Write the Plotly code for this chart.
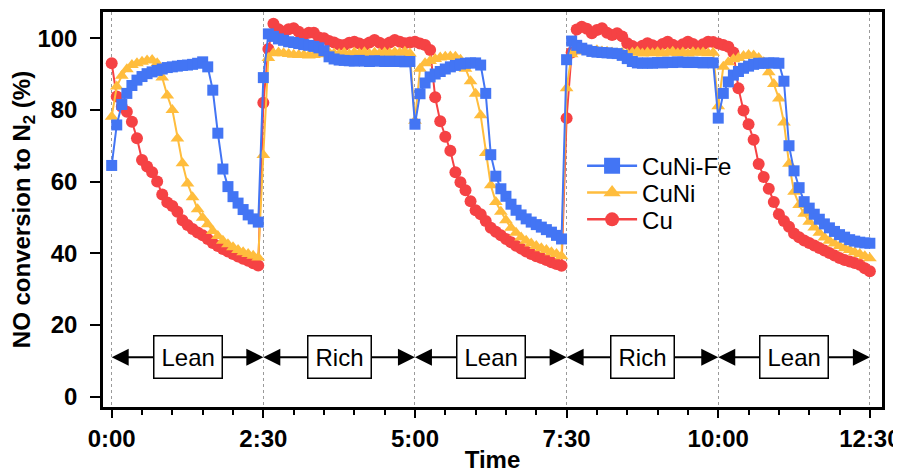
import plotly.graph_objects as go

# ---------------- data ----------------
time_s = list(range(0, 751, 5))  # sampling times in seconds

cuni_fe = [
    # lean 1
    64.5, 75.8, 81.5, 84.6, 86.8, 88.3, 89.3, 90.1, 90.6, 91.0,
    91.4, 91.8, 92.0, 92.2, 92.4, 92.5, 92.7, 93.0, 93.4, 92.0,
    85.5, 73.5, 63.5, 58.6, 55.8, 54.0, 52.2, 50.7, 49.6, 48.7,
    # rich 1
    89.0, 101.2, 100.5, 99.8, 99.4, 99.0, 98.8, 98.5, 98.2, 98.0,
    97.7, 97.3, 96.5, 94.8, 94.2, 93.9, 93.8, 93.7, 93.6, 93.8,
    93.6, 93.5, 93.7, 93.6, 93.5, 93.6, 93.5, 93.6, 93.4, 93.5,
    # lean 2
    76.0, 84.5, 87.5, 89.2, 90.0, 90.7, 91.4, 92.0, 92.4, 92.8,
    93.0, 93.1, 93.1, 92.5, 84.6, 67.5, 61.5, 58.0, 55.9, 53.7,
    52.0, 50.7, 49.6, 48.7, 48.0, 47.3, 46.6, 45.9, 45.0, 44.0,
    # rich 2
    94.0, 99.2, 98.0, 97.2, 96.7, 96.3, 96.1, 96.0, 95.9, 95.8,
    95.7, 95.2, 94.3, 93.5, 93.1, 93.0, 93.1, 93.0, 93.2, 93.1,
    93.3, 93.2, 93.4, 93.3, 93.2, 93.3, 93.2, 93.1, 93.2, 93.1,
    # lean 3
    77.7, 84.6, 87.8, 89.7, 90.7, 91.6, 92.2, 92.7, 93.0, 93.0,
    93.1, 93.1, 93.0, 88.0, 70.0, 63.0, 58.3, 54.4, 52.6, 50.9,
    49.5, 48.2, 47.1, 46.1, 45.2, 44.5, 43.8, 43.4, 43.1, 42.9, 42.8,
]

cuni = [
    # lean 1
    78.1, 86.5, 89.5, 91.3, 92.5, 93.0, 93.4, 93.8, 93.9, 93.0,
    89.0, 84.0, 80.0, 72.0, 65.1, 59.5, 55.6, 52.3, 49.9, 48.1,
    46.2, 44.8, 43.5, 42.5, 41.7, 40.9, 40.3, 39.8, 39.3, 38.8,
    # rich 1
    67.4, 94.5, 95.8, 96.0, 95.8, 95.6, 95.4, 95.3, 95.3, 95.2,
    95.3, 95.5, 95.8, 96.0, 95.7, 95.6, 95.9, 95.5, 96.0, 95.7,
    96.1, 95.6, 95.9, 95.7, 96.0, 95.8, 96.1, 95.9, 96.2, 95.7,
    # lean 2
    77.0, 91.5, 93.0, 93.6, 94.2, 94.6, 94.8, 94.9, 94.8, 94.0,
    91.5, 88.0, 84.5, 78.5, 68.0, 59.0, 54.3, 51.6, 49.2, 47.1,
    45.7, 44.4, 43.5, 42.7, 42.0, 41.4, 40.9, 40.3, 39.8, 39.2,
    # rich 2
    86.0, 95.5, 96.3, 96.7, 96.7, 96.5, 96.6, 96.3, 96.2, 96.0,
    95.8, 95.9, 95.6, 95.9, 96.2, 95.7, 96.0, 95.8, 96.1, 95.7,
    95.9, 96.2, 95.8, 96.0, 95.7, 96.1, 95.9, 96.0, 95.8, 95.9,
    # lean 3
    81.0, 92.0, 93.3, 94.1, 94.5, 95.0, 95.3, 95.2, 94.5, 93.3,
    90.5, 87.2, 83.2, 76.5, 65.0, 57.2, 53.5, 51.0, 48.8, 47.2,
    45.7, 44.4, 43.5, 42.7, 42.0, 41.4, 40.9, 40.3, 39.8, 39.2, 38.6,
]

cu = [
    # lean 1
    93.0, 83.7, 80.9, 79.5, 76.7, 72.1, 66.0, 64.2, 62.6, 60.0,
    56.4, 54.2, 53.2, 51.6, 49.2, 47.9, 46.8, 45.8, 45.0, 44.0,
    42.9, 42.0, 41.2, 40.5, 39.8, 39.1, 38.5, 37.9, 37.2, 36.6,
    # rich 1
    82.0, 97.0, 104.0, 102.5, 101.8, 102.5, 102.8, 101.8, 100.9, 101.5,
    101.5, 100.2, 100.0, 99.2, 98.8, 98.2, 98.1, 98.7, 99.0, 98.5,
    98.1, 98.8, 99.5, 98.7, 98.1, 98.8, 99.5, 99.0, 98.6, 98.8,
    # lean 2
    99.0, 98.5, 98.1, 96.7, 83.5, 76.8, 72.5, 68.6, 62.6, 59.8,
    57.6, 54.5, 52.0, 50.9, 49.0, 47.1, 46.0, 45.0, 44.0, 43.1,
    42.1, 41.3, 40.5, 39.8, 39.2, 38.7, 38.1, 37.5, 37.0, 36.5,
    # rich 2
    77.7, 96.0, 102.4, 103.2, 102.6, 101.4, 102.3, 102.8, 101.5, 100.9,
    101.4, 100.5, 98.6, 97.8, 97.2, 97.9, 98.6, 98.0, 97.6, 98.4,
    99.0, 98.2, 97.6, 98.3, 99.0, 98.4, 97.6, 98.3, 99.0, 98.9,
    # lean 3
    98.5, 98.1, 97.6, 96.0, 86.0, 79.8, 76.0, 71.7, 64.9, 61.3,
    58.0, 54.3, 50.9, 49.0, 47.4, 45.5, 44.5, 43.6, 42.9, 42.2,
    41.5, 40.8, 40.1, 39.4, 38.7, 38.1, 37.7, 37.3, 36.8, 35.8, 35.0,
]

x_tick_vals = [0, 150, 300, 450, 600, 750]
x_tick_text = ["0:00", "2:30", "5:00", "7:30", "10:00", "12:30"]
x_minor_vals = [t for t in range(30, 750, 30) if t % 150 != 0]
y_tick_vals = [0, 20, 40, 60, 80, 100]

phase_names = ["Lean", "Rich", "Lean", "Rich", "Lean"]
phase_bounds = [0, 150, 300, 450, 600, 750]
phase_label_y = 11

series_names = ["Cu", "CuNi", "CuNi-Fe"]
series_values = [cu, cuni, cuni_fe]

# ---------------- style ----------------
COLORS = {"Cu": "#F54244", "CuNi": "#FFBD3D", "CuNi-Fe": "#4375F4"}
SYMBOLS = {"Cu": "circle", "CuNi": "triangle-up", "CuNi-Fe": "square"}
SIZES = {"Cu": 12, "CuNi": 12, "CuNi-Fe": 11}
LEGEND_SIZES = {"Cu": 14, "CuNi": 15, "CuNi-Fe": 16}
LEGEND_ID = {"CuNi-Fe": "legend", "CuNi": "legend2", "Cu": "legend3"}
LEGEND_Y = {"legend": 0.610, "legend2": 0.542, "legend3": 0.474}
LEGEND_X = 0.615
FONT = "Liberation Sans, Arial, Helvetica, sans-serif"
X_RANGE = [-8.6, 762]
Y_RANGE = [-2.87, 107.3]

fig = go.Figure()
for name, vals in zip(series_names, series_values):
    fig.add_trace(go.Scatter(
        x=time_s, y=vals, mode="lines+markers", name=name, showlegend=False,
        line=dict(color=COLORS[name], width=2),
        marker=dict(symbol=SYMBOLS[name], size=SIZES[name],
                    color=COLORS[name], line=dict(width=0)),
    ))
# legend entries (larger symbols, as in the reference legend)
for name in series_names:
    fig.add_trace(go.Scatter(
        x=[None], y=[None], mode="lines+markers", name=name,
        legend=LEGEND_ID[name],
        line=dict(color=COLORS[name], width=2.5),
        marker=dict(symbol=SYMBOLS[name], size=LEGEND_SIZES[name],
                    color=COLORS[name], line=dict(width=0)),
    ))

annotations = []
# arrows first (boxes drawn above them)
for i, name in enumerate(phase_names):
    start, end = phase_bounds[i], phase_bounds[i + 1]
    mid = (start + end) / 2
    for target in (start, end):
        annotations.append(dict(
            x=target, y=phase_label_y, xref="x", yref="y",
            ax=mid, ay=phase_label_y, axref="x", ayref="y",
            text="", showarrow=True, arrowhead=2, arrowwidth=2,
            arrowsize=1.7, arrowcolor="black", standoff=0,
        ))
for i, name in enumerate(phase_names):
    start, end = phase_bounds[i], phase_bounds[i + 1]
    mid = (start + end) / 2
    annotations.append(dict(
        x=mid, y=phase_label_y, xref="x", yref="y", text=name,
        showarrow=False, bgcolor="white", bordercolor="black",
        borderwidth=1.5, borderpad=7,
        font=dict(family=FONT, size=24, color="black"),
    ))

legend_common = dict(
    x=LEGEND_X, xanchor="left", yanchor="middle", bgcolor="rgba(0,0,0,0)",
    borderwidth=0, font=dict(family=FONT, size=24, color="black"),
    itemsizing="trace", itemwidth=50,
)

# white backdrop behind the legend (hides the dotted grid line there)
legend_backdrop = dict(
    type="rect", xref="paper", yref="paper", layer="between",
    x0=LEGEND_X, x1=0.83, y0=0.44, y1=0.71,
    fillcolor="white", line=dict(width=0),
)

# the page adds an 8 px body margin, so the figure is 8 px smaller than the window
fig.update_layout(
    template="none",
    width=893, height=465,
    margin=dict(l=95, r=19, t=4, b=66, autoexpand=False),
    paper_bgcolor="white", plot_bgcolor="white",
    font=dict(family=FONT, color="black"),
    annotations=annotations,
    shapes=[legend_backdrop],
    showlegend=True,
    legend=dict(y=LEGEND_Y["legend"], **legend_common),
    legend2=dict(y=LEGEND_Y["legend2"], **legend_common),
    legend3=dict(y=LEGEND_Y["legend3"], **legend_common),
    xaxis=dict(
        automargin=False,
        range=X_RANGE, tickmode="array", tickvals=x_tick_vals, ticktext=x_tick_text,
        ticks="outside", ticklen=8, tickwidth=2, tickcolor="black",
        showline=True, linewidth=2.5, linecolor="black", mirror=True,
        showgrid=True, gridcolor="#9a9a9a", griddash="dot", gridwidth=1,
        zeroline=False,
        tickfont=dict(family=FONT, size=24, color="black", weight="bold"),
        title=dict(text="<b>Time</b>", font=dict(family=FONT, size=24, color="black"), standoff=12),
        minor=dict(tickmode="array", tickvals=x_minor_vals, ticks="outside",
                   ticklen=5, tickwidth=2, tickcolor="black", showgrid=False),
    ),
    xaxis2=dict(
        automargin=False,
        range=X_RANGE, overlaying="x", anchor="y", side="bottom",
        tickmode="array", tickvals=x_tick_vals, ticks="inside", ticklen=9,
        tickwidth=2, tickcolor="black", showticklabels=False,
        showgrid=False, showline=False, zeroline=False,
        minor=dict(tickmode="array", tickvals=x_minor_vals, ticks="inside",
                   ticklen=5, tickwidth=2, tickcolor="black", showgrid=False),
    ),
    yaxis=dict(
        automargin=False,
        range=Y_RANGE, tickmode="array", tickvals=y_tick_vals,
        ticks="outside", ticklen=10, tickwidth=2, tickcolor="black",
        showline=True, linewidth=2.5, linecolor="black", mirror=True,
        showgrid=False, zeroline=False, ticklabelstandoff=8,
        tickfont=dict(family=FONT, size=24, color="black", weight="bold"),
        title=dict(text="<b>NO conversion to N<sub>2</sub> (%)</b>",
                   font=dict(family=FONT, size=24, color="black"), standoff=8),
    ),
    yaxis2=dict(
        automargin=False,
        range=Y_RANGE, overlaying="y", anchor="x", side="left",
        tickmode="array", tickvals=y_tick_vals, ticks="inside", ticklen=9,
        tickwidth=2, tickcolor="black", showticklabels=False,
        showgrid=False, showline=False, zeroline=False,
    ),
)

fig.write_html("out.html")
